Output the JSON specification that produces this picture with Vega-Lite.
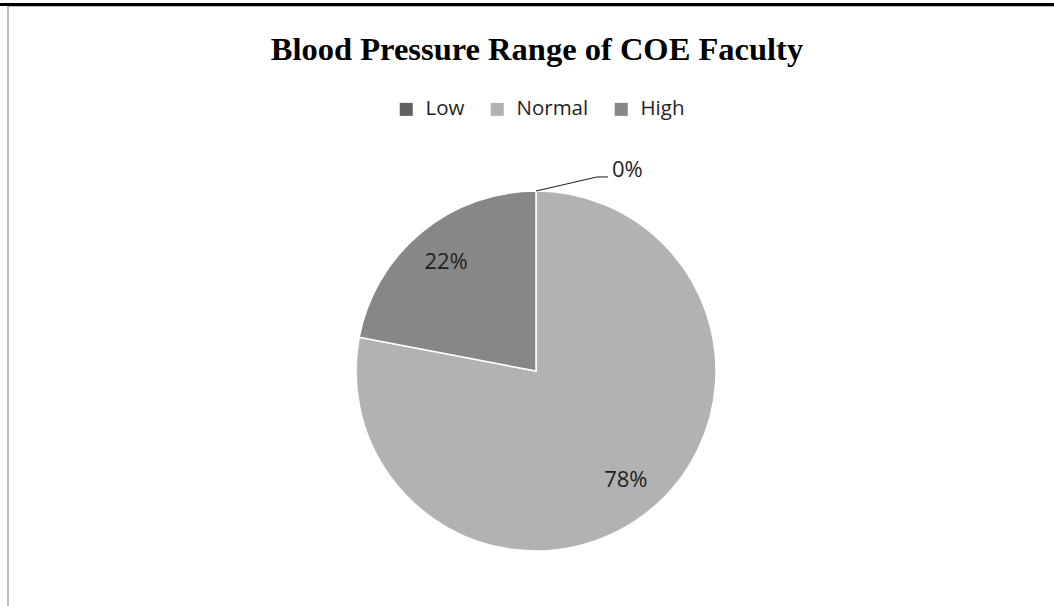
{
  "$schema": "https://vega.github.io/schema/vega-lite/v6.json",
  "width": 1050,
  "height": 604,
  "autosize": {"type": "none"},
  "padding": {"left": 8, "top": 6, "right": -4, "bottom": -4},
  "background": "white",
  "config": {
    "view": {"stroke": "#a6a6a6", "strokeWidth": 1.5},
    "legend": {"orient": "none"}
  },
  "title": {
    "text": "Blood Pressure Range of COE Faculty",
    "font": "Liberation Serif",
    "fontSize": 32.5,
    "fontWeight": "bold",
    "color": "#000000",
    "anchor": "middle",
    "baseline": "alphabetic",
    "offset": 0,
    "dx": 4,
    "dy": 89
  },
  "datasets": {
    "bp": [
      {"range": "Low", "pct": 0, "label": "0%", "ord": 0},
      {"range": "Normal", "pct": 78, "label": "78%", "ord": 1},
      {"range": "High", "pct": 22, "label": "22%", "ord": 2}
    ],
    "leader": [
      {"px": 0, "py": 1.0, "step": 0, "label": ""},
      {"px": 0.339, "py": 1.078, "step": 1, "label": ""},
      {"px": 0.4, "py": 1.078, "step": 2, "label": "0%"}
    ],
    "frame": [{"edge": "top"}]
  },
  "layer": [
    {
      "data": {"name": "bp"},
      "mark": {"type": "arc", "outerRadius": 180, "stroke": "#ffffff", "strokeWidth": 1.5},
      "encoding": {
        "x": {"datum": 0, "type": "quantitative", "scale": {"domain": [-2.93333, 2.9], "nice": false, "zero": false}, "axis": null},
        "y": {"datum": 0, "type": "quantitative", "scale": {"domain": [-1.32778, 2.02778], "nice": false, "zero": false}, "axis": null},
        "theta": {"field": "pct", "type": "quantitative", "stack": true},
        "order": {"field": "ord", "type": "quantitative"},
        "color": {
          "field": "range",
          "type": "nominal",
          "sort": ["Low", "Normal", "High"],
          "scale": {"domain": ["Low", "Normal", "High"], "range": ["#626262", "#b2b2b2", "#878787"]},
          "legend": {
            "title": null,
            "orient": "none",
            "direction": "horizontal",
            "legendX": 388,
            "legendY": 93,
            "symbolType": "square",
            "symbolSize": 170,
            "symbolStrokeWidth": 0,
            "symbolOpacity": 1,
            "labelFont": "Open Sans",
            "labelFontSize": 20.5,
            "labelColor": "#1f1f1f",
            "labelOffset": 9,
            "columnPadding": 22
          }
        }
      }
    },
    {
      "data": {"name": "bp"},
      "transform": [{"filter": "datum.pct > 0"}],
      "mark": {"type": "text", "radius": 141, "font": "Open Sans", "fontSize": 22, "color": "#1f1f1f", "align": "center", "baseline": "middle"},
      "encoding": {
        "x": {"datum": 0, "type": "quantitative", "scale": {"domain": [-2.93333, 2.9], "nice": false, "zero": false}, "axis": null},
        "y": {"datum": 0, "type": "quantitative", "scale": {"domain": [-1.32778, 2.02778], "nice": false, "zero": false}, "axis": null},
        "theta": {"field": "pct", "type": "quantitative", "stack": true},
        "order": {"field": "ord", "type": "quantitative"},
        "text": {"field": "label", "type": "nominal"}
      }
    },
    {
      "data": {"name": "leader"},
      "mark": {"type": "line", "color": "#1a1a1a", "strokeWidth": 1},
      "encoding": {
        "x": {"field": "px", "type": "quantitative", "scale": {"domain": [-2.93333, 2.9], "nice": false, "zero": false}, "axis": null},
        "y": {"field": "py", "type": "quantitative", "scale": {"domain": [-1.32778, 2.02778], "nice": false, "zero": false}, "axis": null},
        "order": {"field": "step", "type": "quantitative"}
      }
    },
    {
      "data": {"name": "leader"},
      "transform": [{"filter": "datum.step == 2"}],
      "mark": {"type": "text", "font": "Open Sans", "fontSize": 22, "color": "#1f1f1f", "align": "left", "baseline": "alphabetic", "dx": 4},
      "encoding": {
        "x": {"field": "px", "type": "quantitative", "scale": {"domain": [-2.93333, 2.9], "nice": false, "zero": false}, "axis": null},
        "y": {"field": "py", "type": "quantitative", "scale": {"domain": [-1.32778, 2.02778], "nice": false, "zero": false}, "axis": null},
        "text": {"field": "label", "type": "nominal"}
      }
    },
    {
      "data": {"name": "frame"},
      "mark": {"type": "rule", "color": "#000000", "strokeWidth": 3, "yOffset": -1.5, "clip": false},
      "encoding": {
        "x": {"datum": -2.98, "type": "quantitative", "scale": {"domain": [-2.93333, 2.9], "nice": false, "zero": false}, "axis": null},
        "x2": {"datum": 2.9},
        "y": {"datum": 2.02778, "type": "quantitative", "scale": {"domain": [-1.32778, 2.02778], "nice": false, "zero": false}, "axis": null}
      }
    }
  ]
}
